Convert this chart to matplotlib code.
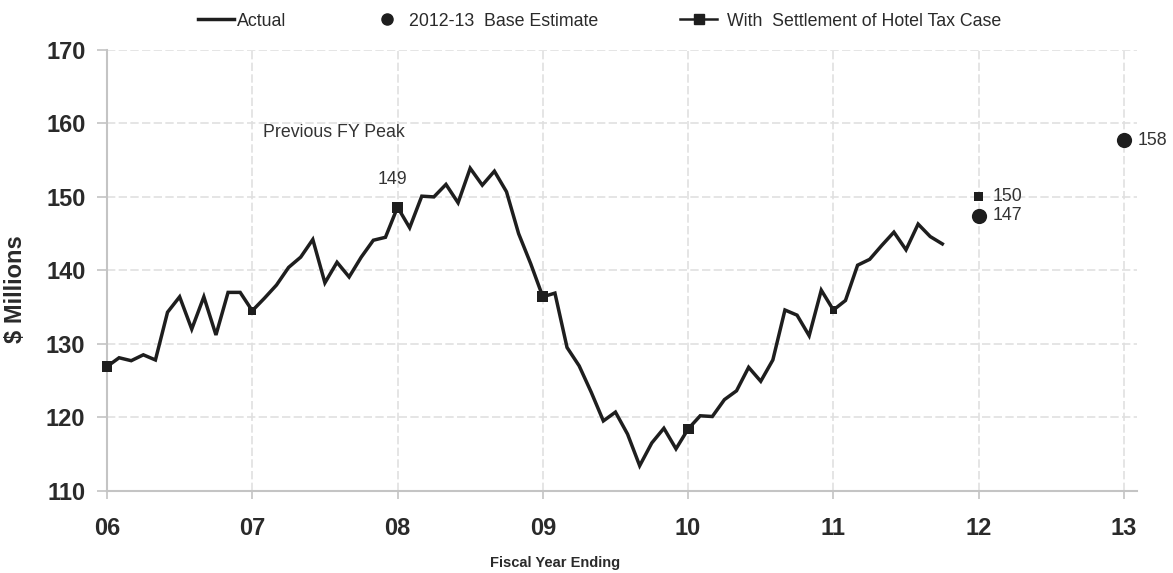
import matplotlib
matplotlib.use("Agg")
import matplotlib.pyplot as plt
from matplotlib.lines import Line2D
import numpy as np

plt.rcParams["font.family"] = ["Liberation Sans", "DejaVu Sans"]

# Monthly actual collections ($ millions), starting at FY06 year-end
actual = [
    126.9, 128.1, 127.7, 128.5, 127.8, 134.3, 136.4, 132.0, 136.4, 131.2, 137.0, 137.0,
    134.5, 136.2, 138.0, 140.4, 141.8, 144.2, 138.3, 141.1, 139.1, 141.8, 144.1, 144.5,
    148.6, 145.8, 150.1, 150.0, 151.7, 149.2, 153.9, 151.6, 153.5, 150.7, 145.0, 140.9,
    136.4, 136.9, 129.5, 127.0, 123.4, 119.5, 120.7, 117.7, 113.4, 116.5, 118.5, 115.7,
    118.4, 120.2, 120.1, 122.4, 123.6, 126.8, 124.9, 127.8, 134.6, 133.9, 131.1, 137.3,
    134.6, 135.9, 140.7, 141.5, 143.4, 145.2, 142.8, 146.3, 144.6, 143.6,
]
actual_start_year = 6

# Fiscal year-end values with settlement of the hotel tax case
settle_years = [6, 7, 8, 9, 10, 11, 12]
settle_vals = [126.9, 134.5, 148.6, 136.4, 118.4, 134.6, 150.1]

# 2012-13 base estimate
base_years = [12, 13]
base_vals = [147.4, 157.7]

year_ticks = [6, 7, 8, 9, 10, 11, 12, 13]
year_labels = ["06", "07", "08", "09", "10", "11", "12", "13"]
y_ticks = [110, 120, 130, 140, 150, 160, 170]

ink = "#1e1e1e"
text_c = "#2a2a2a"
grid_c = "#e0e0e0"
spine_c = "#c4c4c4"

W, H = 1173, 573
fig = plt.figure(figsize=(W / 100, H / 100), dpi=100)
ax = fig.add_axes([107 / W, 82.3 / H, 1030 / W, 440.7 / H])

months = actual_start_year + np.arange(len(actual)) / 12.0
ax.plot(months, actual, color=ink, lw=2.5, solid_joinstyle="miter", zorder=3)

# settlement markers: on-line years drawn as squares, 07 and 11 slightly smaller
sizes = [62, 30, 62, 62, 62, 30, 45]
ax.scatter(settle_years, settle_vals, marker="s", s=sizes, color=ink, zorder=4,
           linewidths=0, clip_on=False)
ax.scatter(base_years, base_vals, marker="o", s=120, color=ink, zorder=4,
           linewidths=0, clip_on=False)

# value labels
lab_kw = dict(textcoords="offset points", fontsize=12.8, color="#333333")
ax.annotate(f"{settle_vals[2]:.0f}", (settle_years[2], settle_vals[2]), xytext=(-4, 14),
            ha="center", va="bottom", **lab_kw)
ax.annotate(f"{settle_vals[6]:.0f}", (settle_years[6], settle_vals[6]), xytext=(10, 0),
            ha="left", va="center", **lab_kw)
for yr, v in zip(base_years, base_vals):
    ax.annotate(f"{v:.0f}", (yr, v), xytext=(10, 0), ha="left", va="center", **lab_kw)

ax.text(7.077, 158.7, "Previous FY Peak", ha="left", va="center", fontsize=12.8, color="#333333")

ax.set_xlim(6, 13.09)
ax.set_ylim(110, 170)
ax.set_xticks(year_ticks)
ax.set_xticklabels(year_labels)
ax.set_yticks(y_ticks)

for lbl in ax.get_xticklabels() + ax.get_yticklabels():
    lbl.set_fontweight("bold")
    lbl.set_fontsize(17)
    lbl.set_color(text_c)

ax.tick_params(axis="y", direction="out", length=7, width=1.2, color=spine_c, pad=8.5)
ax.tick_params(axis="x", direction="out", length=6, width=1.2, color=spine_c, pad=13)

ax.grid(True, color=grid_c, lw=1.2, ls=(0, (5, 2)))
ax.set_axisbelow(True)
for side in ("top", "right"):
    ax.spines[side].set_visible(False)
for side in ("left", "bottom"):
    ax.spines[side].set_color(spine_c)
    ax.spines[side].set_linewidth(1.5)

ax.set_ylabel("$ Millions", fontsize=17, fontweight="bold", color=text_c)
ax.yaxis.set_label_coords(-0.078, 0.458)
ax.set_xlabel("Fiscal Year Ending", fontsize=10.5, fontweight="bold", color=text_c)
ax.xaxis.set_label_coords(0.435, -0.148)

# legend entries placed individually along the top
leg_y = 1 - 21 / H
leg_kw = dict(loc="center left", frameon=False, fontsize=12.8, borderpad=0,
              borderaxespad=0, labelcolor=text_c)
fig.legend([Line2D([], [], color=ink, lw=2.5)], ["Actual"],
           bbox_to_anchor=(198 / W, leg_y), handlelength=2.0, handletextpad=0.22, **leg_kw)
fig.legend([Line2D([], [], color=ink, marker="o", ls="none", ms=8)],
           ["2012-13  Base Estimate"],
           bbox_to_anchor=(378 / W, leg_y), handlelength=1.0, handletextpad=0.75, **leg_kw)
fig.legend([Line2D([], [], color=ink, lw=1.8, marker="s", ms=7)],
           ["With  Settlement of Hotel Tax Case"],
           bbox_to_anchor=(680 / W, leg_y), handlelength=2.1, handletextpad=0.55, **leg_kw)

fig.savefig("out.png", dpi=100)
